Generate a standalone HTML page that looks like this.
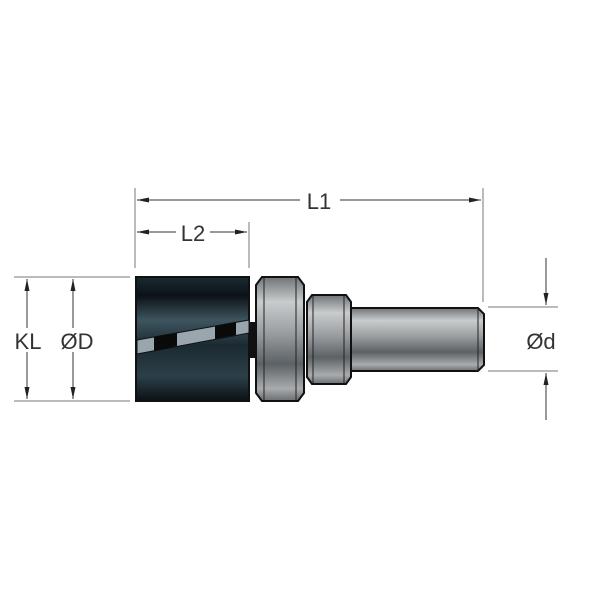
<!DOCTYPE html>
<html><head><style>body{margin:0;background:#fff}svg{display:block}text{font-family:"Liberation Sans",sans-serif;fill:#333}</style></head><body>
<svg width="600" height="600" viewBox="0 0 600 600" xmlns="http://www.w3.org/2000/svg">
<defs>
<linearGradient id="blk" x1="0" y1="0" x2="0" y2="1">
<stop offset="0" stop-color="#1a2a33"/><stop offset="0.15" stop-color="#0c1216"/><stop offset="0.35" stop-color="#3e5560"/><stop offset="0.55" stop-color="#1b2a31"/><stop offset="0.8" stop-color="#2c3f48"/><stop offset="1" stop-color="#0b1115"/></linearGradient>
<linearGradient id="met" x1="0" y1="0" x2="0" y2="1">
<stop offset="0" stop-color="#6f7478"/><stop offset="0.2" stop-color="#c9cccd"/><stop offset="0.45" stop-color="#9a9ea1"/><stop offset="0.7" stop-color="#5c6165"/><stop offset="0.9" stop-color="#a9acae"/><stop offset="1" stop-color="#6a6e71"/></linearGradient>
<marker id="ar" viewBox="0 0 12 5" refX="12" refY="2.5" markerWidth="12" markerHeight="5" orient="auto-start-reverse" markerUnits="userSpaceOnUse"><path d="M0,0L12,2.5L0,5z" fill="#222"/></marker>
</defs>
<g stroke="#777" stroke-width="1" fill="none">
<line x1="135" y1="188" x2="135" y2="268"/>
<line x1="249" y1="222" x2="249" y2="268"/>
<line x1="483" y1="188" x2="483" y2="302"/>
<line x1="14" y1="277" x2="130" y2="277"/>
<line x1="14" y1="401" x2="130" y2="401"/>
<line x1="488" y1="307" x2="558" y2="307"/>
<line x1="488" y1="371" x2="558" y2="371"/>
</g>
<g stroke="#333" stroke-width="1" fill="none">
<line x1="137" y1="200" x2="300" y2="200" marker-start="url(#ar)"/>
<line x1="340" y1="200" x2="481" y2="200" marker-end="url(#ar)"/>
<line x1="137" y1="232" x2="176" y2="232" marker-start="url(#ar)"/>
<line x1="210" y1="232" x2="247" y2="232" marker-end="url(#ar)"/>
<line x1="27" y1="279" x2="27" y2="328" marker-start="url(#ar)"/>
<line x1="27" y1="352" x2="27" y2="399" marker-end="url(#ar)"/>
<line x1="73" y1="279" x2="73" y2="328" marker-start="url(#ar)"/>
<line x1="73" y1="352" x2="73" y2="399" marker-end="url(#ar)"/>
<line x1="546" y1="258" x2="546" y2="305" marker-end="url(#ar)"/>
<line x1="546" y1="420" x2="546" y2="373" marker-end="url(#ar)"/>
</g>
<text x="319" y="209" font-size="22" text-anchor="middle">L1</text>
<text x="193" y="241" font-size="22" text-anchor="middle">L2</text>
<text x="28" y="349" font-size="22" text-anchor="middle">KL</text>
<text x="77" y="349" font-size="22" text-anchor="middle">ØD</text>
<text x="541" y="349" font-size="22" text-anchor="middle">Ød</text>
<path d="M350,308H478L484,314V365L478,371H350Z" fill="url(#met)" stroke="#111" stroke-width="2"/>
<line x1="478" y1="308" x2="478" y2="371" stroke="#222" stroke-width="1"/>
<path d="M312,295H346L351,302V377L346,384H312L307,377V302Z" fill="url(#met)" stroke="#111" stroke-width="2"/>
<line x1="313" y1="296" x2="313" y2="383" stroke="#222"/><line x1="344" y1="296" x2="344" y2="383" stroke="#222"/>
<rect x="249" y="322" width="8" height="36" fill="#111"/>
<path d="M262,277H298L304,285V393L298,401H262L256,393V285Z" fill="url(#met)" stroke="#111" stroke-width="2"/>
<line x1="264" y1="278" x2="264" y2="400" stroke="#222"/><line x1="296" y1="278" x2="296" y2="400" stroke="#222"/>
<rect x="136" y="277" width="113" height="124" fill="url(#blk)" stroke="#111" stroke-width="2"/>
<path d="M137,340L249,320V333L137,354Z" fill="#9aa6ad" stroke="#111" stroke-width="1"/>
<path d="M154,337L177,333V346L154,351Z" fill="#0a0a0a"/>
<path d="M215,326L236,322V335L215,339Z" fill="#0a0a0a"/>
</svg>
</body></html>
